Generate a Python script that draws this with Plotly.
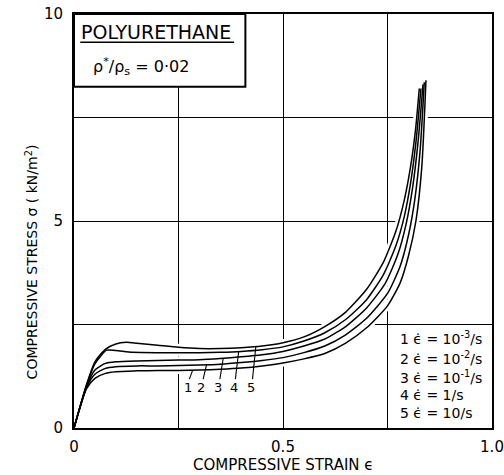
import numpy as np
import plotly.graph_objects as go

# ---- data ----
strain_5 = [0, 0.03, 0.05, 0.075, 0.1, 0.125, 0.15, 0.2, 0.25, 0.3, 0.35, 0.4, 0.45, 0.5, 0.55, 0.6, 0.65, 0.7, 0.74, 0.77, 0.79, 0.805, 0.817, 0.826]
stress_5 = [0, 1.05, 1.6, 1.9, 2.03, 2.07, 2.05, 2.0, 1.95, 1.92, 1.92, 1.94, 1.98, 2.06, 2.2, 2.45, 2.8, 3.35, 4.0, 4.75, 5.5, 6.3, 7.2, 8.2]

strain_4 = [0, 0.03, 0.05, 0.078, 0.1, 0.14, 0.2, 0.25, 0.3, 0.35, 0.4, 0.45, 0.5, 0.55, 0.6, 0.65, 0.7, 0.74, 0.77, 0.79, 0.805, 0.818, 0.83]
stress_4 = [0, 1.03, 1.55, 1.88, 1.87, 1.83, 1.82, 1.82, 1.82, 1.83, 1.85, 1.89, 1.96, 2.1, 2.3, 2.62, 3.1, 3.7, 4.4, 5.1, 5.9, 6.9, 8.2]

strain_3 = [0, 0.03, 0.05, 0.075, 0.1, 0.15, 0.2, 0.25, 0.3, 0.35, 0.4, 0.45, 0.5, 0.55, 0.6, 0.65, 0.7, 0.745, 0.775, 0.795, 0.81, 0.823, 0.835]
stress_3 = [0, 1.0, 1.4, 1.56, 1.6, 1.62, 1.63, 1.64, 1.65, 1.68, 1.72, 1.77, 1.85, 1.98, 2.15, 2.45, 2.9, 3.5, 4.2, 4.95, 5.8, 6.9, 8.3]

strain_2 = [0, 0.03, 0.05, 0.075, 0.1, 0.15, 0.2, 0.25, 0.3, 0.35, 0.4, 0.45, 0.5, 0.55, 0.6, 0.65, 0.7, 0.75, 0.78, 0.8, 0.815, 0.828, 0.838]
stress_2 = [0, 0.98, 1.3, 1.44, 1.48, 1.5, 1.5, 1.51, 1.52, 1.54, 1.58, 1.63, 1.7, 1.82, 1.98, 2.25, 2.65, 3.25, 3.9, 4.65, 5.5, 6.7, 8.35]

strain_1 = [0, 0.03, 0.05, 0.075, 0.1, 0.15, 0.2, 0.25, 0.3, 0.35, 0.4, 0.45, 0.5, 0.55, 0.6, 0.65, 0.7, 0.75, 0.78, 0.8, 0.818, 0.832, 0.842]
stress_1 = [0, 0.95, 1.2, 1.32, 1.36, 1.38, 1.39, 1.39, 1.40, 1.42, 1.45, 1.5, 1.57, 1.67, 1.8, 2.05, 2.42, 2.95, 3.5, 4.15, 5.0, 6.3, 8.4]

curve_ids = ["1", "2", "3", "4", "5"]
rate_labels = ["10<sup>-3</sup>/s", "10<sup>-2</sup>/s", "10<sup>-1</sup>/s", "1/s", "10/s"]
label_strain = [0.272, 0.305, 0.345, 0.382, 0.423]

x_tickvals = [0, 0.25, 0.5, 0.75, 1.0]
x_ticktext = ["0", "", "0.5", "", "1.0"]
y_tickvals = [0, 2.5, 5, 7.5, 10]
y_ticktext = ["0", "", "5", "", "10"]

curves = [(strain_1, stress_1), (strain_2, stress_2), (strain_3, stress_3),
          (strain_4, stress_4), (strain_5, stress_5)]

FONT = "DejaVu Sans"
fig = go.Figure()

# white halos (break grid lines where curves cross, as in the drawing)
for sx, sy in curves:
    fig.add_trace(go.Scatter(x=sx, y=sy, mode="lines",
                             line=dict(color="white", width=7, shape="spline", smoothing=0.6),
                             hoverinfo="skip", showlegend=False))
for cid, (sx, sy) in zip(curve_ids, curves):
    fig.add_trace(go.Scatter(x=sx, y=sy, mode="lines", name=cid,
                             line=dict(color="black", width=1.5, shape="spline", smoothing=0.6),
                             showlegend=False))

# leader lines from curve labels to curves
for cid, lx, (sx, sy) in zip(curve_ids, label_strain, curves):
    top_x = lx + 0.012
    top_y = float(np.interp(top_x, sx, sy))
    fig.add_trace(go.Scatter(x=[lx + 0.004, top_x], y=[1.18, top_y], mode="lines",
                             line=dict(color="black", width=1.1),
                             hoverinfo="skip", showlegend=False))
    fig.add_annotation(x=lx, y=0.98, text=cid, showarrow=False,
                       font=dict(size=13, family=FONT, color="black"),
                       xanchor="center", yanchor="middle")

# top-left box
fig.add_shape(type="rect", x0=0, x1=0.41, y0=8.24, y1=10, layer="between",
              fillcolor="white", line=dict(color="black", width=2))
fig.add_annotation(x=0.012, y=9.57, text="POLYURETHANE", showarrow=False,
                   xanchor="left", yanchor="middle",
                   font=dict(size=19, family=FONT, color="black"))
fig.add_shape(type="line", x0=0.015, x1=0.383, y0=9.32, y1=9.32,
              line=dict(color="black", width=1.5))
fig.add_annotation(x=0.04, y=8.73, text="ρ<sup>*</sup>/ρ<sub>s</sub> = 0·02", showarrow=False,
                   xanchor="left", yanchor="middle",
                   font=dict(size=16, family=FONT, color="black"))

# bottom-right rate legend
leg_y = [2.17, 1.69, 1.23, 0.80, 0.36]
for cid, rl, ly in zip(curve_ids, rate_labels, leg_y):
    fig.add_annotation(x=0.775, y=ly, text=f"{cid} ϵ̇ = {rl}", showarrow=False,
                       xanchor="left", yanchor="middle",
                       font=dict(size=14, family=FONT, color="black"))

# axis titles
fig.add_annotation(xref="paper", x=0, xshift=-42, y=4.0, yref="y",
                   text="COMPRESSIVE STRESS σ ( kN/m<sup>2</sup>)", textangle=-90,
                   showarrow=False, xanchor="center", yanchor="middle",
                   font=dict(size=14, family=FONT, color="black"))
fig.add_annotation(xref="paper", x=0.5, yref="paper", y=0, yshift=-37,
                   text="COMPRESSIVE STRAIN ϵ", showarrow=False,
                   xanchor="center", yanchor="middle",
                   font=dict(size=15, family=FONT, color="black"))

fig.update_xaxes(range=[0, 1.0], tickvals=x_tickvals, ticktext=x_ticktext,
                 showgrid=True, gridcolor="black", gridwidth=1.3,
                 showline=True, linecolor="black", linewidth=2, mirror=True,
                 zeroline=False, ticks="", ticklabelstandoff=4, automargin=False,
                 tickfont=dict(size=15, family=FONT, color="black"))
fig.update_yaxes(range=[0, 10], tickvals=y_tickvals, ticktext=y_ticktext,
                 showgrid=True, gridcolor="black", gridwidth=1.3,
                 showline=True, linecolor="black", linewidth=2, mirror=True,
                 zeroline=False, ticks="", ticklabelstandoff=6, automargin=False,
                 tickfont=dict(size=15, family=FONT, color="black"))

fig.update_layout(width=504, height=475,
                  margin=dict(l=74, r=12, t=14, b=47, autoexpand=False),
                  paper_bgcolor="white", plot_bgcolor="white",
                  showlegend=False)

# remove the browser's default 8px body margin so the figure fills the window
fig.write_html("out.html", config={"displayModeBar": False},
               post_script="document.body.style.margin='0';document.body.style.overflow='hidden';")
